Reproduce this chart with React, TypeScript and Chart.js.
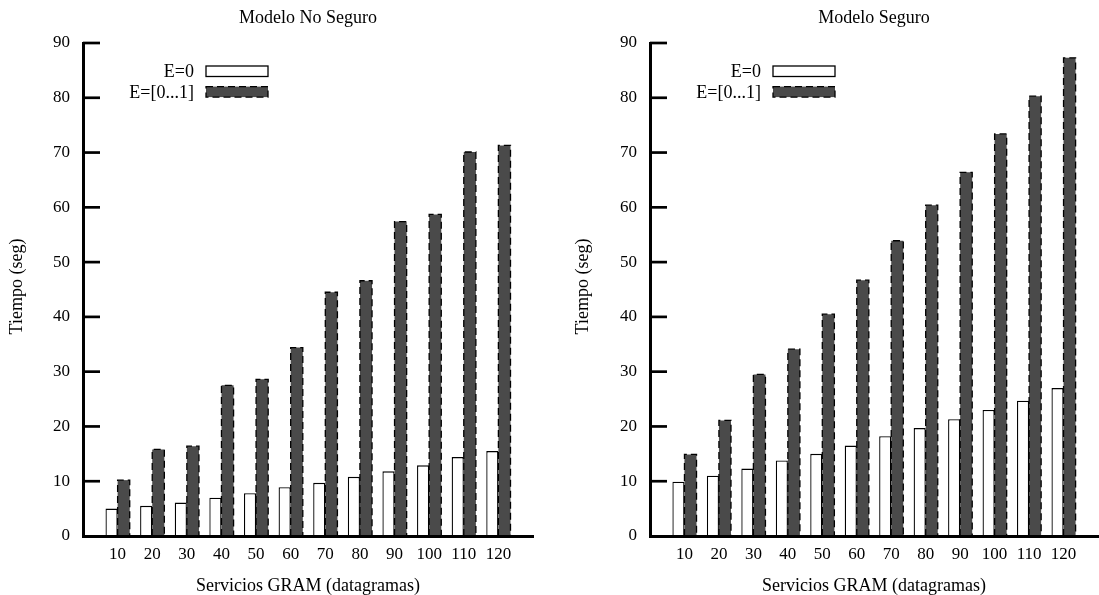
import React, { useEffect, useRef } from 'react';
import { Chart, registerables } from 'chart.js';

Chart.register(...registerables);

// ---- data ----
const categories = ['10', '20', '30', '40', '50', '60', '70', '80', '90', '100', '110', '120'];
const seriesLabels = ['E=0', 'E=[0...1]'];
const noSeguroE0 = [5.0, 5.5, 6.1, 7.0, 7.8, 8.9, 9.7, 10.8, 11.8, 12.9, 14.4, 15.5];
const noSeguroE01 = [10.2, 15.8, 16.4, 27.5, 28.6, 34.4, 44.5, 46.6, 57.4, 58.7, 70.1, 71.3];
const seguroE0 = [9.9, 11.0, 12.3, 13.8, 15.0, 16.5, 18.2, 19.7, 21.3, 23.0, 24.7, 27.0];
const seguroE01 = [14.9, 21.1, 29.5, 34.1, 40.5, 46.7, 53.9, 60.4, 66.4, 73.4, 80.3, 87.3];
const yTickValues = [0, 10, 20, 30, 40, 50, 60, 70, 80, 90];
const xTitle = 'Servicios GRAM (datagramas)';
const yTitle = 'Tiempo (seg)';

const FONT = '"Liberation Serif", "Times New Roman", Times, serif';
const DARK = '#4a4a4a';

type PanelProps = {
  title: string;
  e0: number[];
  e01: number[];
  width: number;
  yAxisWidth: number;
  padRight: number;
  yTitleX: number;
};

function makeDecor(title: string, yTitleX: number) {
  return {
    id: 'gnuplotDecor',
    afterDatasetsDraw(chart: any) {
      const ctx = chart.ctx;
      const area = chart.chartArea;
      // dashed outline on dark bars
      const meta = chart.getDatasetMeta(1);
      ctx.save();
      ctx.strokeStyle = '#000';
      ctx.lineWidth = 1.3;
      ctx.setLineDash([7, 4]);
      meta.data.forEach((el: any) => {
        const { x, y, base, width } = el.getProps(['x', 'y', 'base', 'width'], true);
        const l = x - width / 2;
        const r = x + width / 2;
        ctx.beginPath();
        ctx.moveTo(l, base);
        ctx.lineTo(l, y);
        ctx.lineTo(r, y);
        ctx.lineTo(r, base);
        ctx.stroke();
      });
      ctx.restore();
      // inward y tick marks
      const ys = chart.scales.y;
      ctx.save();
      ctx.strokeStyle = '#000';
      ctx.lineWidth = 2.7;
      ys.ticks.forEach((t: any) => {
        if (t.value === 0) return;
        const py = ys.getPixelForValue(t.value);
        ctx.beginPath();
        ctx.moveTo(area.left, py);
        ctx.lineTo(area.left + 17, py);
        ctx.stroke();
      });
      ctx.restore();
    },
    afterDraw(chart: any) {
      const ctx = chart.ctx;
      const area = chart.chartArea;
      const cx = (area.left + area.right) / 2;
      const cy = (area.top + area.bottom) / 2;
      ctx.save();
      ctx.fillStyle = '#000';
      ctx.font = `18px ${FONT}`;
      ctx.textAlign = 'center';
      ctx.textBaseline = 'alphabetic';
      ctx.fillText(title, cx, 23);
      ctx.fillText(xTitle, cx, 591);
      ctx.save();
      ctx.translate(yTitleX, cy - 3);
      ctx.rotate(-Math.PI / 2);
      ctx.textBaseline = 'middle';
      ctx.fillText(yTitle, 0, 0);
      ctx.restore();
      // legend
      const ds = chart.data.datasets;
      ds.forEach((d: any, i: number) => {
        const top = 66 + i * 20.6;
        ctx.font = `18px ${FONT}`;
        ctx.textAlign = 'right';
        ctx.textBaseline = 'alphabetic';
        ctx.fillStyle = '#000';
        ctx.fillText(d.label, area.left + 111, top + 11);
        const bx = area.left + 123;
        const bw = 62;
        const bh = 10.5;
        ctx.fillStyle = d.backgroundColor;
        ctx.fillRect(bx, top, bw, bh);
        ctx.strokeStyle = '#000';
        ctx.lineWidth = 1.3;
        if (i === 1) ctx.setLineDash([7, 4]);
        else ctx.setLineDash([]);
        ctx.strokeRect(bx, top, bw, bh);
        ctx.setLineDash([]);
      });
      ctx.restore();
    },
  };
}

function Panel({ title, e0, e01, width, yAxisWidth, padRight, yTitleX }: PanelProps) {
  const ref = useRef<HTMLCanvasElement>(null);
  useEffect(() => {
    if (!ref.current) return;
    const tickFont = { family: FONT, size: 17 };
    const chart = new Chart(ref.current, {
      type: 'bar',
      data: {
        datasets: [
          {
            label: seriesLabels[0],
            data: e0.map((v, i) => ({ x: i, y: v })),
            backgroundColor: '#ffffff',
            borderColor: '#000000',
            borderWidth: 1.3,
          },
          {
            label: seriesLabels[1],
            data: e01.map((v, i) => ({ x: i, y: v })),
            backgroundColor: DARK,
            borderWidth: 0,
          },
        ],
      } as any,
      options: {
        responsive: false,
        animation: false,
        events: [],
        layout: { padding: { top: 43, right: padRight, left: 0, bottom: 0 } },
        datasets: { bar: { categoryPercentage: 0.7, barPercentage: 1 } },
        plugins: {
          legend: { display: false },
          title: { display: false },
          tooltip: { enabled: false },
        },
        scales: {
          x: {
            type: 'linear',
            min: -1,
            max: 12,
            offset: false,
            afterBuildTicks: (s: any) => {
              s.ticks = categories.map((_, i) => ({ value: i }));
            },
            afterFit: (s: any) => {
              s.height = 59;
            },
            ticks: {
              callback: (v: any) => categories[v] ?? '',
              font: tickFont,
              color: '#000',
              padding: 8,
              maxRotation: 0,
              autoSkip: false,
            },
            grid: { display: false, drawTicks: false },
            border: { display: true, color: '#000', width: 3, z: 1 },
          },
          y: {
            type: 'linear',
            min: 0,
            max: 90,
            afterBuildTicks: (s: any) => {
              s.ticks = yTickValues.map((v) => ({ value: v }));
            },
            afterFit: (s: any) => {
              s.width = yAxisWidth;
            },
            ticks: { font: tickFont, color: '#000', padding: 13 },
            grid: { display: false, drawTicks: false },
            border: { display: true, color: '#000', width: 3, z: 1 },
          },
        },
      } as any,
      plugins: [makeDecor(title, yTitleX)],
    });
    return () => chart.destroy();
  }, []);
  return <canvas ref={ref} width={width} height={595} style={{ display: 'block' }} />;
}

export default function App() {
  return (
    <div style={{ position: 'absolute', left: 0, top: 0, width: 1099, height: 595, background: '#fff', display: 'flex' }}>
      <Panel title="Modelo No Seguro" e0={noSeguroE0} e01={noSeguroE01} width={550} yAxisWidth={83} padRight={17} yTitleX={17} />
      <Panel title="Modelo Seguro" e0={seguroE0} e01={seguroE01} width={549} yAxisWidth={100} padRight={1} yTitleX={33} />
    </div>
  );
}
